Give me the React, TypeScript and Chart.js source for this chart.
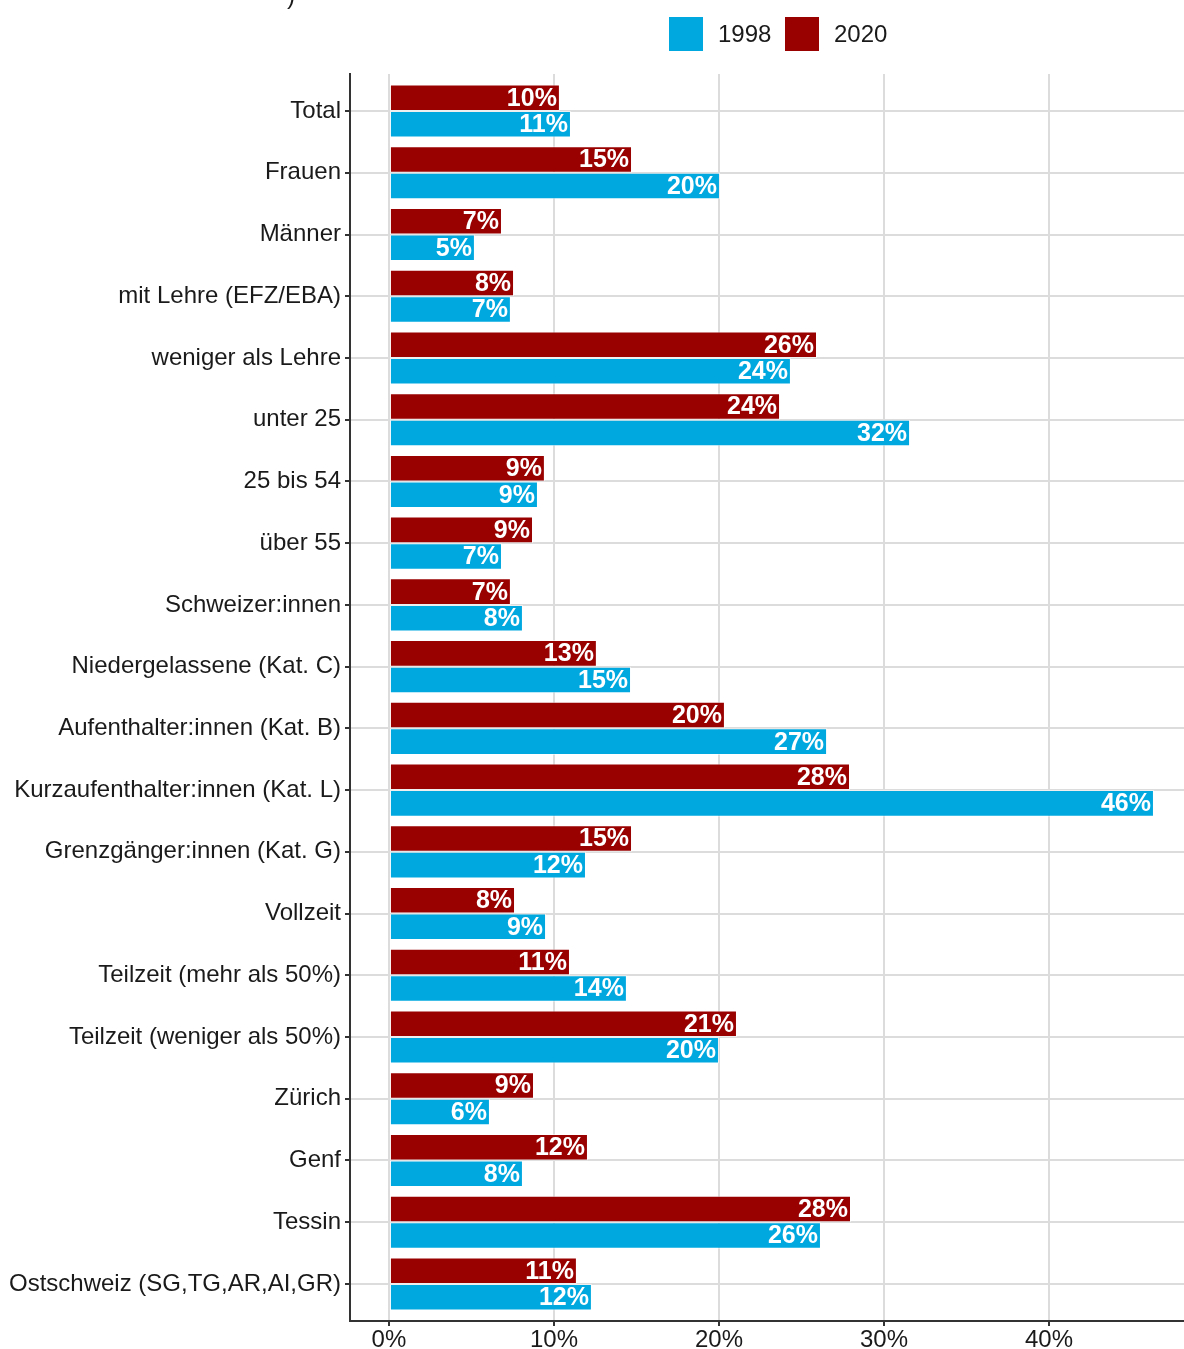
import React, { useEffect, useRef } from "react";
import { Chart, registerables } from "chart.js";

Chart.register(...registerables);

const categories = [
  "Total",
  "Frauen",
  "Männer",
  "mit Lehre (EFZ/EBA)",
  "weniger als Lehre",
  "unter 25",
  "25 bis 54",
  "über 55",
  "Schweizer:innen",
  "Niedergelassene (Kat. C)",
  "Aufenthalter:innen (Kat. B)",
  "Kurzaufenthalter:innen (Kat. L)",
  "Grenzgänger:innen (Kat. G)",
  "Vollzeit",
  "Teilzeit (mehr als 50%)",
  "Teilzeit (weniger als 50%)",
  "Zürich",
  "Genf",
  "Tessin",
  "Ostschweiz (SG,TG,AR,AI,GR)",
];

const values2020 = [10.36, 14.73, 6.85, 7.58, 25.94, 23.7, 9.45, 8.73, 7.39, 12.6, 20.36, 27.94, 14.73, 7.64, 10.97, 21.09, 8.79, 12.06, 28.0, 11.39];
const values1998 = [11.03, 20.06, 5.21, 7.39, 24.36, 31.58, 9.03, 6.85, 8.12, 14.67, 26.55, 46.36, 11.94, 9.52, 14.42, 20.0, 6.12, 8.12, 26.18, 12.3];

const labels2020 = ["10%", "15%", "7%", "8%", "26%", "24%", "9%", "9%", "7%", "13%", "20%", "28%", "15%", "8%", "11%", "21%", "9%", "12%", "28%", "11%"];
const labels1998 = ["11%", "20%", "5%", "7%", "24%", "32%", "9%", "7%", "8%", "15%", "27%", "46%", "12%", "9%", "14%", "20%", "6%", "8%", "26%", "12%"];

const xTicks = [0, 10, 20, 30, 40];

const seriesNames = ["2020", "1998"];
const legendOrder = ["1998", "2020"];

const RED = "#990000";
const BLUE = "#00A8E0";
const FONT = "'Liberation Sans', Arial, sans-serif";

export default function App() {
  const ref = useRef<HTMLCanvasElement | null>(null);

  useEffect(() => {
    const canvas = ref.current;
    if (!canvas) return;
    const barLabels = [labels2020, labels1998];
    const colors: Record<string, string> = { "2020": RED, "1998": BLUE };

    const labelPlugin = {
      id: "barLabels",
      afterDatasetsDraw(chart: any) {
        const ctx = chart.ctx;
        ctx.save();
        ctx.fillStyle = "#FFFFFF";
        ctx.font = `bold 25px ${FONT}`;
        ctx.textAlign = "right";
        ctx.textBaseline = "middle";
        chart.data.datasets.forEach((_: any, di: number) => {
          const meta = chart.getDatasetMeta(di);
          meta.data.forEach((bar: any, i: number) => {
            ctx.fillText(barLabels[di][i], bar.x - 3, bar.y + 1);
          });
        });
        ctx.restore();
      },
      afterDraw(chart: any) {
        const ctx = chart.ctx;
        ctx.save();
        const boxX = [669, 785];
        legendOrder.forEach((name, k) => {
          ctx.fillStyle = colors[name];
          ctx.fillRect(boxX[k], 17, 34, 34);
          ctx.fillStyle = "#1A1A1A";
          ctx.font = `24px ${FONT}`;
          ctx.textAlign = "left";
          ctx.textBaseline = "middle";
          ctx.fillText(name, boxX[k] + 49, 35);
        });
        ctx.font = `24px ${FONT}`;
        ctx.textBaseline = "alphabetic";
        ctx.fillText(")", 287, 4);
        ctx.restore();
      },
    };

    const chart = new Chart(canvas, {
      type: "bar",
      data: {
        datasets: [
          {
            label: seriesNames[0],
            data: values2020.map((v, i) => ({ x: v, y: i })),
            backgroundColor: RED,
            borderColor: "rgba(255,255,255,0.55)",
            borderWidth: 1,
            borderSkipped: false,
          },
          {
            label: seriesNames[1],
            data: values1998.map((v, i) => ({ x: v, y: i })),
            backgroundColor: BLUE,
            borderColor: "rgba(255,255,255,0.55)",
            borderWidth: 1,
            borderSkipped: false,
          },
        ],
      },
      options: {
        indexAxis: "y",
        animation: false,
        responsive: false,
        maintainAspectRatio: false,
        layout: { padding: { top: 74, left: 0, right: 0, bottom: 0 } },
        categoryPercentage: 0.86,
        barPercentage: 1,
        plugins: {
          legend: { display: false },
          tooltip: { enabled: false },
        },
        scales: {
          x: {
            type: "linear",
            min: -2.36,
            max: 48.18,
            afterBuildTicks: (scale: any) => {
              scale.ticks = xTicks.map((v) => ({ value: v }));
            },
            afterFit: (scale: any) => {
              scale.height = 28;
            },
            ticks: {
              callback: (v: any) => `${v}%`,
              color: "#1A1A1A",
              font: { family: FONT, size: 24 },
              padding: 0,
              maxRotation: 0,
            },
            grid: {
              color: "#DCDCDC",
              lineWidth: 2,
              tickColor: "#333333",
              tickLength: 5,
              drawTicks: true,
            },
            border: { display: true, color: "#333333", width: 2 },
          },
          y: {
            type: "linear",
            reverse: true,
            offset: false,
            min: -0.6,
            max: categories.length - 1 + 0.6,
            afterBuildTicks: (scale: any) => {
              scale.ticks = categories.map((_, i) => ({ value: i }));
            },
            afterFit: (scale: any) => {
              scale.width = 350;
            },
            ticks: {
              callback: (v: any) => categories[v] ?? "",
              color: "#1A1A1A",
              font: { family: FONT, size: 24 },
              padding: 4,
              autoSkip: false,
            },
            grid: {
              offset: false,
              color: "#DCDCDC",
              lineWidth: 2,
              tickColor: "#333333",
              tickLength: 5,
              drawTicks: true,
            },
            border: { display: true, color: "#333333", width: 2 },
          },
        },
      },
      plugins: [labelPlugin],
    } as any);

    return () => chart.destroy();
  }, []);

  return (
    <div style={{ position: "absolute", left: 0, top: 0, width: 1184, height: 1349, background: "#FFFFFF" }}>
      <canvas ref={ref} width={1184} height={1349} style={{ width: 1184, height: 1349, display: "block" }} />
    </div>
  );
}
